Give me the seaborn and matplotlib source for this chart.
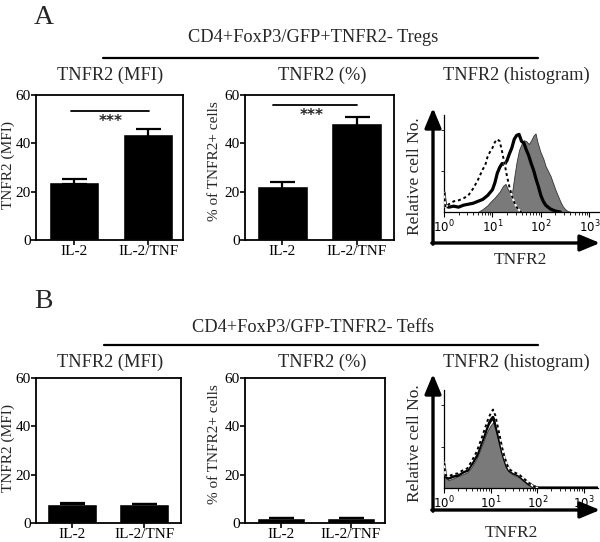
import numpy as np
import pandas as pd
import matplotlib
matplotlib.use("Agg")
import matplotlib.pyplot as plt
import seaborn as sns
from matplotlib.ticker import LogLocator, NullFormatter

sns.set_theme(style="white")
plt.rcParams["font.family"] = ["Liberation Serif", "DejaVu Serif"]
plt.rcParams["mathtext.fontset"] = "dejavusans"

# ---------------- data ----------------
conditions = ["IL-2", "IL-2/TNF"]
mfi_A = [24.1, 43.7]
mfi_A_err = [1.1, 2.2]
pct_A = [22.3, 48.5]
pct_A_err = [1.8, 2.5]
mfi_B = [8.0, 7.9]
mfi_B_err = [0.15, 0.1]
pct_B = [2.2, 2.2]
pct_B_err = [0.05, 0.05]
bar_yticks = [0, 20, 40, 60]
sig_A_mfi_y = 53.5
sig_A_pct_y = 56.0

hist_ticks = [1, 10, 100, 1000]
hist_ticklabels = [r"$10^0$", r"$10^1$", r"$10^2$", r"$10^3$"]

# histogram A (Tregs) : log10 intensity / relative cell number
A_gray_logx = [0.70, 0.80, 0.90, 0.95, 1.05, 1.15, 1.22, 1.27, 1.33, 1.40, 1.45, 1.50, 1.55, 1.60,
               1.65, 1.70, 1.75, 1.80, 1.85, 1.89, 1.93, 1.99, 2.05, 2.10, 2.15, 2.20, 2.25, 2.30,
               2.35, 2.40, 2.45, 2.50, 2.55, 2.62]
A_gray_y = [0.00, 0.03, 0.07, 0.10, 0.15, 0.21, 0.27, 0.29, 0.22, 0.18, 0.36, 0.52, 0.64, 0.70,
            0.74, 0.73, 0.70, 0.74, 0.79, 0.81, 0.72, 0.62, 0.55, 0.47, 0.42, 0.37, 0.30, 0.23,
            0.17, 0.11, 0.06, 0.03, 0.01, 0.00]
A_black_logx = [0.0, 0.03, 0.1, 0.2, 0.3, 0.4, 0.5, 0.6, 0.7, 0.8, 0.9, 0.95, 1.0, 1.05, 1.1, 1.15,
                1.2, 1.25, 1.3, 1.35, 1.4, 1.45, 1.5, 1.55, 1.6, 1.65, 1.7, 1.75, 1.8, 1.85, 1.9,
                1.95, 2.0, 2.05, 2.1, 2.2, 2.3, 2.4]
A_black_y = [0.20, 0.06, 0.05, 0.06, 0.05, 0.07, 0.08, 0.09, 0.11, 0.13, 0.17, 0.20, 0.23, 0.30,
             0.40, 0.46, 0.50, 0.49, 0.53, 0.60, 0.66, 0.75, 0.79, 0.80, 0.73, 0.71, 0.64, 0.58,
             0.50, 0.43, 0.34, 0.26, 0.17, 0.11, 0.07, 0.03, 0.01, 0.00]
A_dash_logx = [0.0, 0.03, 0.1, 0.2, 0.3, 0.4, 0.5, 0.6, 0.7, 0.8, 0.85, 0.9, 0.95, 1.0, 1.05, 1.1,
               1.15, 1.2, 1.25, 1.3, 1.35, 1.4, 1.45, 1.5, 1.55, 1.6]
A_dash_y = [0.20, 0.05, 0.08, 0.11, 0.12, 0.14, 0.17, 0.24, 0.33, 0.44, 0.48, 0.57, 0.62, 0.66,
            0.72, 0.75, 0.73, 0.62, 0.50, 0.37, 0.26, 0.17, 0.10, 0.05, 0.02, 0.00]

# histogram B (Teffs)
B_gray_logx = [0.0, 0.03, 0.1, 0.2, 0.3, 0.4, 0.5, 0.6, 0.7, 0.8, 0.85, 0.9, 0.95, 1.0, 1.05, 1.1,
               1.15, 1.2, 1.25, 1.3, 1.35, 1.4, 1.5, 1.6, 1.7, 1.8, 1.9, 1.95]
B_gray_y = [0.22, 0.10, 0.08, 0.10, 0.12, 0.14, 0.16, 0.22, 0.30, 0.42, 0.48, 0.55, 0.60, 0.64,
            0.67, 0.60, 0.52, 0.43, 0.34, 0.26, 0.20, 0.16, 0.13, 0.11, 0.07, 0.03, 0.01, 0.00]
B_black_logx = [0.0, 0.03, 0.1, 0.2, 0.3, 0.4, 0.5, 0.6, 0.7, 0.8, 0.85, 0.9, 0.95, 1.0, 1.05, 1.1,
                1.15, 1.2, 1.25, 1.3, 1.35, 1.4, 1.5, 1.6, 1.7, 1.8, 1.9, 2.0, 3.35]
B_black_y = [0.24, 0.12, 0.10, 0.12, 0.13, 0.16, 0.18, 0.25, 0.33, 0.46, 0.52, 0.59, 0.65, 0.69,
             0.72, 0.66, 0.57, 0.47, 0.37, 0.29, 0.22, 0.18, 0.15, 0.13, 0.09, 0.05, 0.02, 0.00, 0.00]
B_dash_logx = [0.0, 0.03, 0.1, 0.2, 0.3, 0.4, 0.5, 0.6, 0.7, 0.8, 0.85, 0.9, 0.95, 1.0, 1.05, 1.1,
               1.15, 1.2, 1.25, 1.3, 1.35, 1.4, 1.5, 1.6, 1.7, 1.8, 1.9, 2.0]
B_dash_y = [0.26, 0.13, 0.12, 0.14, 0.15, 0.18, 0.20, 0.28, 0.37, 0.50, 0.57, 0.64, 0.71, 0.76,
            0.80, 0.74, 0.63, 0.52, 0.40, 0.31, 0.24, 0.19, 0.16, 0.14, 0.10, 0.06, 0.02, 0.00]

# ---------------- figure ----------------
W, H = 600, 542
fig = plt.figure(figsize=(W / 100, H / 100), dpi=100)


def px(x0, y0, x1, y1):
    return [x0 / W, 1 - y1 / H, (x1 - x0) / W, (y1 - y0) / H]


SERIF = ["Liberation Serif", "DejaVu Serif"]


def bar_panel(rect, vals, errs, ylabel, xlim, width, ylab_xy, sig=None):
    ax = fig.add_axes(px(*rect))
    df = pd.DataFrame({"cond": conditions, "val": vals})
    sns.barplot(data=df, x="cond", y="val", color="black", saturation=1, width=width,
                errorbar=None, ax=ax)
    ax.errorbar(x=[0, 1], y=vals, yerr=errs, fmt="none", ecolor="black",
                elinewidth=1.6, capsize=9, capthick=1.6)
    ax.set_ylim(0, 60)
    ax.set_xlim(*xlim)
    ax.set_yticks(bar_yticks)
    ax.set_xlabel("")
    ax.set_ylabel(ylabel, fontsize=11, family=SERIF, va="center")
    ax.yaxis.set_label_coords(*ylab_xy)
    ax.tick_params(axis="both", which="both", bottom=True, left=True, direction="out",
                   length=3.5, width=1.2, color="black", labelsize=11, pad=0.3,
                   labelcolor="black")
    for lab in ax.get_xticklabels() + ax.get_yticklabels():
        lab.set_family(SERIF)
    for s in ax.spines.values():
        s.set_color("black")
        s.set_linewidth(1.3)
        s.set_visible(True)
    if sig is not None:
        sx, sy, stx, sty = sig
        ax.plot(sx, [sy, sy], color="black", lw=1.3)
        ax.text(stx, sty, "***", ha="center", va="center", fontsize=11,
                fontweight="bold", family=["DejaVu Sans"])
    return ax


def hist_panel(rect, xmax_log, gray, black, dash, xlab_xy, ylab_xy):
    ax = fig.add_axes(px(*rect))
    ax.set_xscale("log")
    gx = 10 ** np.asarray(gray[0])
    ax.fill_between(gx, 0, gray[1], color="#7a7a7a", lw=0.6, edgecolor="#333333", zorder=2)
    sns.lineplot(x=10 ** np.asarray(black[0]), y=black[1], color="black", lw=2.3,
                 estimator=None, sort=False, ax=ax, zorder=3)
    dx = 10 ** np.asarray(dash[0])
    sns.lineplot(x=dx, y=dash[1], color="white", lw=1.4, estimator=None, sort=False, ax=ax, zorder=4)
    sns.lineplot(x=dx, y=dash[1], color="black", lw=1.4, estimator=None, sort=False, ax=ax,
                 zorder=5, dashes=False, linestyle=(0, (1.5, 1.5)))
    ax.set_xlim(1, 10 ** xmax_log)
    ax.set_ylim(0, 1.0)
    ax.set_xticks(hist_ticks)
    ax.set_xticklabels(hist_ticklabels)
    ax.xaxis.set_minor_locator(LogLocator(base=10, subs=np.arange(2, 10), numticks=20))
    ax.xaxis.set_minor_formatter(NullFormatter())
    ax.set_yticks([0.42, 0.85])
    ax.set_yticklabels([])
    ax.tick_params(axis="x", which="major", bottom=True, direction="out", length=3.5,
                   width=0.8, color="black", labelsize=8.5, pad=1.5, labelcolor="black")
    ax.tick_params(axis="x", which="minor", bottom=True, direction="out", length=2,
                   width=0.6, color="black")
    ax.tick_params(axis="y", left=True, direction="out", length=2, width=0.6, color="black")
    for side in ["top", "right"]:
        ax.spines[side].set_visible(False)
    for side in ["left", "bottom"]:
        ax.spines[side].set_visible(True)
        ax.spines[side].set_color("black")
        ax.spines[side].set_linewidth(0.9)
    ax.set_xlabel("TNFR2", fontsize=12.5, family=SERIF, va="center")
    ax.xaxis.set_label_coords(*xlab_xy)
    ax.set_ylabel("Relative cell No.", fontsize=12.5, family=SERIF, va="center")
    ax.yaxis.set_label_coords(*ylab_xy)
    ax.patch.set_alpha(0)
    return ax


# ---- Panel A ----
bar_panel((36, 95, 183, 240), mfi_A, mfi_A_err, "TNFR2 (MFI)", (-0.51, 1.47), 0.67,
          (-0.187, 0.52), sig=([-0.04, 1.01], sig_A_mfi_y, 0.5, 49.0))
bar_panel((245, 95, 394, 240), pct_A, pct_A_err, "% of TNFR2+ cells", (-0.5, 1.5), 0.69,
          (-0.208, 0.545), sig=([-0.12, 1.0], sig_A_pct_y, 0.4, 51.5))
hist_panel((444, 115, 599, 212), 3.2, (A_gray_logx, A_gray_y), (A_black_logx, A_black_y),
           (A_dash_logx, A_dash_y), (0.49, -0.495), (-0.19, 0.37))

# ---- Panel B ----
bar_panel((36, 378, 181, 523), mfi_B, mfi_B_err, "TNFR2 (MFI)", (-0.5, 1.51), 0.69,
          (-0.19, 0.52))
bar_panel((245, 378, 385, 523), pct_B, pct_B_err, "% of TNFR2+ cells", (-0.51, 1.49), 0.69,
          (-0.221, 0.545))
hist_panel((444, 390, 598, 488), 3.3, (B_gray_logx, B_gray_y), (B_black_logx, B_black_y),
           (B_dash_logx, B_dash_y), (0.44, -0.46), (-0.19, 0.46))

# ---- overlay for headings, rules and arrows (pixel coordinates) ----
ov = fig.add_axes([0, 0, 1, 1], zorder=10)
ov.set_xlim(0, W)
ov.set_ylim(H, 0)
ov.axis("off")
ov.patch.set_alpha(0)

ov.text(44, 18, "A", fontsize=20, ha="center", va="center", family=SERIF)
ov.text(43, 301, "B", fontsize=20, ha="center", va="center", family=SERIF)
ov.text(313, 38, "CD4+FoxP3/GFP+TNFR2- Tregs", fontsize=13.2, ha="center", va="center", family=SERIF)
ov.text(313, 327, "CD4+FoxP3/GFP-TNFR2- Teffs", fontsize=13.2, ha="center", va="center", family=SERIF)
ov.plot([103, 538], [57.7, 57.7], color="black", lw=1.6)
ov.plot([104, 538], [345, 345], color="black", lw=1.6)
for yy in (75, 362):
    ov.text(110, yy, "TNFR2 (MFI)", fontsize=13.2, ha="center", va="center", family=SERIF)
    ov.text(322, yy, "TNFR2 (%)", fontsize=13.2, ha="center", va="center", family=SERIF)
    ov.text(516, yy, "TNFR2 (histogram)", fontsize=13.2, ha="center", va="center", family=SERIF)

arrow_style = "-|>,head_length=0.6,head_width=0.25"
for (x0, ybase, ytip) in ((433, 243, 108), (433, 510, 374)):
    ov.annotate("", xy=(x0, ytip), xytext=(x0, ybase + 1.2),
                arrowprops=dict(arrowstyle=arrow_style, lw=2.4, color="black",
                                mutation_scale=20, shrinkA=0, shrinkB=0))
    ov.annotate("", xy=(600, ybase), xytext=(x0 - 1.2, ybase),
                arrowprops=dict(arrowstyle=arrow_style, lw=2.4, color="black",
                                mutation_scale=20, shrinkA=0, shrinkB=0))

fig.savefig("out.png", dpi=100)
